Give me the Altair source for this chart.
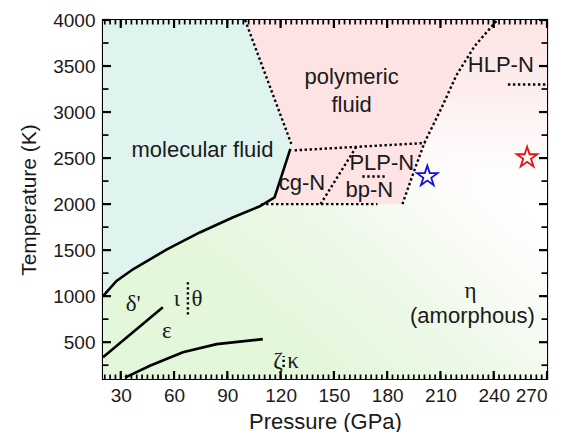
import altair as alt
import pandas as pd

# ---------------- data ----------------
# axis ticks
x_major = [30, 60, 90, 120, 150, 180, 210, 240, 270]
x_minor = list(range(21, 271, 3))
y_major = [500, 1000, 1500, 2000, 2500, 3000, 3500, 4000]
y_minor = [250, 750, 1250, 1750, 2250, 2750, 3250, 3750]

# melting line (solid)
melt_P = [20, 27.6, 36.9, 56, 74.5, 93, 108, 116.6, 125.5]
melt_T = [1000, 1165, 1292, 1508, 1692, 1855, 1974, 2072, 2600]

# delta'/epsilon boundary (solid)
de_P = [20, 53.7]
de_T = [335, 880]

# epsilon/zeta boundary (solid)
ez_P = [32.4, 46.4, 65, 84, 110]
ez_T = [115, 244, 390, 479, 533]

# dotted boundaries
mol_poly_P = [100, 126]
mol_poly_T = [4000, 2655]
poly_top_P = [127.9, 201.5]
poly_top_T = [2584, 2664]
cg_bot_P = [109, 174.5]
cg_bot_T = [2000, 2000]
cg_plp_P = [142.5, 162.7]
cg_plp_T = [2000, 2625]
plp_bp_P = [166, 180]
plp_bp_T = [2300, 2300]
big_P = [188.6, 195, 201, 210.5, 219, 229.4, 242]
big_T = [2000, 2350, 2667, 3040, 3400, 3720, 4000]
hlp_P = [248, 270]
hlp_T = [3300, 3300]
it_P = [67.8, 67.8]
it_T = [800, 1180]
zk_P = [121.7, 121.7]
zk_T = [230, 350]

# filled regions
molf_P = [20, 27.6, 36.9, 56, 74.5, 93, 100, 108, 116.6, 125.5, 126]
molf_lo = [1000, 1165, 1292, 1508, 1692, 1855, 1910, 1974, 2072, 2600, 2655]
molf_hi = [4000, 4000, 4000, 4000, 4000, 4000, 4000, 3585, 3138, 2680, 2655]
polyf_P = [100, 188.6, 195, 201, 210.5, 219, 229.4, 242]
polyf_lo = [2000, 2000, 2350, 2667, 3040, 3400, 3720, 4000]
polyf_hi = [4000, 4000, 4000, 4000, 4000, 4000, 4000, 4000]

# text labels
sans_labels = ["molecular fluid", "polymeric", "fluid", "cg-N", "PLP-N", "bp-N",
               "HLP-N", "(amorphous)"]
sans_P = [76, 160, 160, 132, 177, 170, 244, 228]
sans_T = [2592, 3383, 3080, 2234, 2450, 2158, 3510, 783]
serif_labels = ["\u03b4'", "\u03b5", "\u03b9", "\u03b8", "\u03b6", "\u03ba", "\u03b7"]
serif_P = [37, 56, 61.6, 73, 118.5, 127, 227]
serif_T = [913, 620, 967, 967, 300, 300, 1053]

# stars
star_P = [202.6, 258.8]
star_T = [2300, 2505]
star_col = ["#1010e0", "#e81010"]

# ---------------- chart ----------------
W, H = 444, 359
P_MIN, P_MAX, T_MIN, T_MAX = 20, 270, 100, 4000
xs = alt.Scale(domain=[P_MIN, P_MAX], nice=False, zero=False)
ys = alt.Scale(domain=[T_MIN, T_MAX], nice=False, zero=False)

xax = alt.Axis(values=x_major, ticks=False, domain=False, grid=False, format="d",
               labelFontSize=19, labelPadding=7, labelFont="Liberation Sans",
               labelColor="#1a1a1a", title="Pressure (GPa)", titleFontSize=22,
               titleFont="Liberation Sans", titleFontWeight="normal",
               titleColor="#1a1a1a", titlePadding=6, labelFlush=True)
yax = alt.Axis(values=y_major, ticks=False, domain=False, grid=False, format="d",
               labelFontSize=19, labelPadding=8, labelFont="Liberation Sans",
               labelColor="#1a1a1a", title="Temperature (K)", titleFontSize=21,
               titleFont="Liberation Sans", titleFontWeight="normal",
               titleColor="#1a1a1a", titlePadding=13, labelFlush=False)


def X(f):
    return alt.X(f, type="quantitative", scale=xs, axis=xax)


def Y(f):
    return alt.Y(f, type="quantitative", scale=ys, axis=yax)


bg = pd.DataFrame({"P0": [P_MIN], "P1": [P_MAX], "T0": [T_MIN], "T1": [T_MAX]})
base = alt.Chart(bg).mark_rect(
    color=alt.LinearGradient(
        gradient="linear", x1=0.38, y1=0.85, x2=0.85, y2=0.42,
        stops=[alt.GradientStop(color="#e3f7db", offset=0),
               alt.GradientStop(color="#eef9e9", offset=0.45),
               alt.GradientStop(color="#fdfcfa", offset=0.85),
               alt.GradientStop(color="#ffffff", offset=1)])
).encode(x=X("P0"), x2="P1", y=Y("T0"), y2="T1")

tr = pd.DataFrame({"P0": [185], "P1": [P_MAX], "T0": [2000], "T1": [T_MAX]})
topright = alt.Chart(tr).mark_rect(
    color=alt.LinearGradient(
        gradient="linear", x1=0, x2=0, y1=0, y2=1,
        stops=[alt.GradientStop(color="#fce4e4", offset=0),
               alt.GradientStop(color="#fdeeee", offset=0.4),
               alt.GradientStop(color="rgba(255,250,250,0)", offset=1)])
).encode(x=X("P0"), x2="P1", y=Y("T0"), y2="T1")

polyf = alt.Chart(pd.DataFrame({"P": polyf_P, "lo": polyf_lo, "hi": polyf_hi})).mark_area(
    color="#fde3e3", opacity=1).encode(x=X("P"), y=Y("lo"), y2="hi")
molf = alt.Chart(pd.DataFrame({"P": molf_P, "lo": molf_lo, "hi": molf_hi})).mark_area(
    color="#e0f4ef", opacity=1).encode(x=X("P"), y=Y("lo"), y2="hi")


def segs(items):
    rows = []
    for sid, (ps, ts) in enumerate(items):
        for i, (p, t) in enumerate(zip(ps, ts)):
            rows.append({"seg": sid, "i": i, "P": float(p), "T": float(t)})
    return pd.DataFrame(rows)


solid_df = segs([(melt_P, melt_T), (de_P, de_T), (ez_P, ez_T)])
dot_df = segs([(mol_poly_P, mol_poly_T), (poly_top_P, poly_top_T), (cg_bot_P, cg_bot_T),
               (cg_plp_P, cg_plp_T), (plp_bp_P, plp_bp_T), (big_P, big_T),
               (hlp_P, hlp_T), (it_P, it_T), (zk_P, zk_T)])

solid = alt.Chart(solid_df).mark_line(color="black", strokeWidth=2.6).encode(
    x=X("P"), y=Y("T"), detail="seg:N", order="i:Q")
dotted = alt.Chart(dot_df).mark_line(color="black", strokeWidth=2.4,
                                     strokeDash=[2.4, 2.6]).encode(
    x=X("P"), y=Y("T"), detail="seg:N", order="i:Q")

# inward ticks on all four sides (lengths in pixels, converted to data units)
tT = (T_MAX - T_MIN) / H   # K per pixel
tP = (P_MAX - P_MIN) / W   # GPa per pixel
major_items, minor_items = [], []
for p in x_major:
    major_items += [([p, p], [T_MIN, T_MIN + 8 * tT]), ([p, p], [T_MAX, T_MAX - 8 * tT])]
for t in y_major:
    major_items += [([P_MIN, P_MIN + 8 * tP], [t, t]), ([P_MAX, P_MAX - 8 * tP], [t, t])]
for p in x_minor:
    minor_items += [([p, p], [T_MIN, T_MIN + 4.5 * tT]), ([p, p], [T_MAX, T_MAX - 4.5 * tT])]
for t in y_minor:
    minor_items += [([P_MIN, P_MIN + 5.5 * tP], [t, t]), ([P_MAX, P_MAX - 5.5 * tP], [t, t])]

major_ticks = alt.Chart(segs(major_items)).mark_line(color="black", strokeWidth=2.2).encode(
    x=X("P"), y=Y("T"), detail="seg:N", order="i:Q")
minor_ticks = alt.Chart(segs(minor_items)).mark_line(color="black", strokeWidth=1.7).encode(
    x=X("P"), y=Y("T"), detail="seg:N", order="i:Q")

sans = alt.Chart(pd.DataFrame({"lab": sans_labels, "P": sans_P, "T": sans_T})).mark_text(
    font="Liberation Sans", fontSize=22, color="#1a1a1a").encode(
    x=X("P"), y=Y("T"), text="lab:N")
serif = alt.Chart(pd.DataFrame({"lab": serif_labels, "P": serif_P, "T": serif_T})).mark_text(
    font="Liberation Serif", fontSize=23, color="#1a1a1a").encode(
    x=X("P"), y=Y("T"), text="lab:N")

star_path = ("M0,-1L0.2245,-0.309L0.951,-0.309L0.363,0.118L0.588,0.809L0,0.382"
             "L-0.588,0.809L-0.363,0.118L-0.951,-0.309L-0.2245,-0.309Z")
stars = alt.Chart(pd.DataFrame({"P": star_P, "T": star_T, "c": star_col})).mark_point(
    shape=star_path, size=470, filled=False, strokeWidth=1.8, opacity=1).encode(
    x=X("P"), y=Y("T"), stroke=alt.Stroke("c:N", scale=None))

chart = alt.layer(base, topright, polyf, molf, solid, dotted, major_ticks, minor_ticks,
                  sans, serif, stars).properties(
    width=W, height=H,
    autosize=alt.AutoSizeParams(type="none"),
    padding={"left": 95, "top": 12, "right": 9, "bottom": 53},
    background="white",
).configure_view(stroke="black", strokeWidth=2.2).configure_axis(
    titleFontWeight="normal")

chart.save("out.html", embed_options={"renderer": "svg", "actions": False})
